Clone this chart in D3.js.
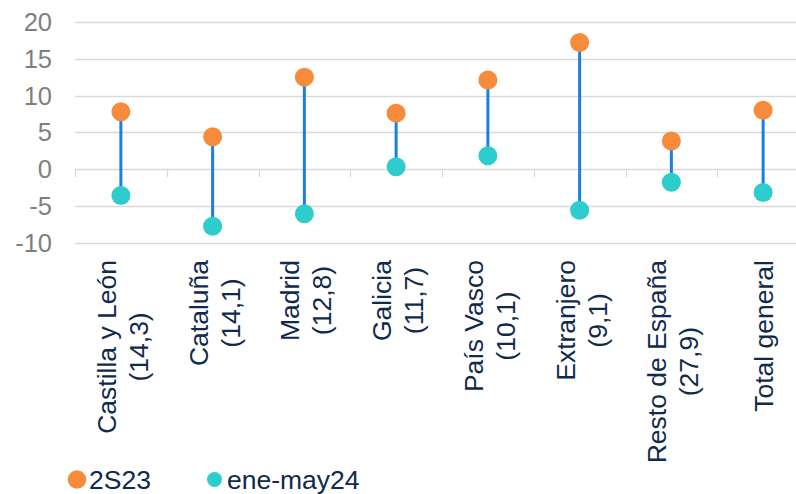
<!DOCTYPE html>
<html>
<head>
<meta charset="utf-8">
<script src="https://cdn.jsdelivr.net/npm/d3@7"></script>
<style>
  html, body { margin: 0; padding: 0; background: #fff; }
  svg { display: block; font-family: "Liberation Sans", Arial, sans-serif; }
</style>
</head>
<body>
<div id="chart"></div>
<script>
// Daten
const categories = ["Castilla y León", "Cataluña", "Madrid", "Galicia", "País Vasco", "Extranjero", "Resto de España", "Total general"];
const subLabels = ["(14,3)", "(14,1)", "(12,8)", "(11,7)", "(10,1)", "(9,1)", "(27,9)", ""];
const values2S23 = [7.8, 4.4, 12.5, 7.6, 12.1, 17.2, 3.8, 8.0];
const valuesEneMay24 = [-3.6, -7.8, -6.1, 0.3, 1.8, -5.6, -1.8, -3.2];
const yTicks = [-10, -5, 0, 5, 10, 15, 20];
const seriesNames = ["2S23", "ene-may24"];

const width = 796, height = 494;
const margin = { top: 22, right: -13, left: 75 };
const labelFont = "26.5px";

const svg = d3.select("#chart")
    .append("svg")
    .attr("width", width)
    .attr("height", height);

const x = d3.scaleBand()
    .domain(categories)
    .range([margin.left, width - margin.right])
    .padding(0);

const y = d3.scaleLinear()
    .domain([-10, 20])
    .range([242.5, margin.top]);

// Gitterlinien
svg.append("g")
    .selectAll("line")
    .data(yTicks)
    .enter()
    .append("line")
    .attr("x1", margin.left)
    .attr("x2", width - margin.right)
    .attr("y1", d => Math.round(y(d)) + 0.5)
    .attr("y2", d => Math.round(y(d)) + 0.5)
    .attr("stroke", "#d9d9d9")
    .attr("stroke-width", 1.3);

// Y-Achse Beschriftung
svg.append("g")
    .selectAll("text")
    .data(yTicks)
    .enter()
    .append("text")
    .attr("x", 52)
    .attr("y", d => y(d))
    .attr("dy", "0.36em")
    .attr("text-anchor", "end")
    .attr("fill", "#7f7f7f")
    .style("font-size", "25.5px")
    .text(d => d);

// Kategorie-Ticks auf der Nulllinie
const tickPos = categories.map(c => x(c)).concat([x(categories[categories.length - 1]) + x.bandwidth()]);
svg.append("g")
    .selectAll("line")
    .data(tickPos)
    .enter()
    .append("line")
    .attr("x1", d => Math.round(d) + 0.5)
    .attr("x2", d => Math.round(d) + 0.5)
    .attr("y1", Math.round(y(0)))
    .attr("y2", Math.round(y(0)) + 8)
    .attr("stroke", "#d9d9d9")
    .attr("stroke-width", 1.3);

const cx = d => x(d) + x.bandwidth() / 2;

// Verbindungslinien
svg.append("g")
    .selectAll("line")
    .data(categories)
    .enter()
    .append("line")
    .attr("x1", d => cx(d))
    .attr("x2", d => cx(d))
    .attr("y1", (d, i) => y(values2S23[i]))
    .attr("y2", (d, i) => y(valuesEneMay24[i]))
    .attr("stroke", "#1a7fe0")
    .attr("stroke-width", 3);

// Punkte
svg.append("g")
    .selectAll("circle")
    .data(categories)
    .enter()
    .append("circle")
    .attr("cx", d => cx(d))
    .attr("cy", (d, i) => y(valuesEneMay24[i]))
    .attr("r", 9.5)
    .attr("fill", "#2ecdcd");

svg.append("g")
    .selectAll("circle")
    .data(categories)
    .enter()
    .append("circle")
    .attr("cx", d => cx(d))
    .attr("cy", (d, i) => y(values2S23[i]))
    .attr("r", 9.5)
    .attr("fill", "#f68b3b");

// zweite Zeile mittig unter der ersten Zeile ausrichten
function halfWidth(t) {
    const tmp = svg.append("text").style("font-size", labelFont).text(t);
    const w = tmp.node().getComputedTextLength();
    tmp.remove();
    return w / 2;
}

// Kategorie-Beschriftung (rotiert)
const labels = svg.append("g")
    .selectAll("g")
    .data(categories)
    .enter()
    .append("g")
    .attr("transform", d => `translate(${cx(d)},260) rotate(-90)`);

labels.each(function(d, i) {
    const g = d3.select(this);
    const two = subLabels[i] !== "";
    g.append("text")
        .attr("x", 0)
        .attr("y", two ? -14.5 : 0)
        .attr("dy", "0.36em")
        .attr("text-anchor", "end")
        .attr("fill", "#0f2a4d")
        .style("font-size", labelFont)
        .text(d);
    if (two) {
        g.append("text")
            .attr("x", -halfWidth(d))
            .attr("y", 17.5)
            .attr("dy", "0.36em")
            .attr("text-anchor", "middle")
            .attr("fill", "#0f2a4d")
            .style("font-size", labelFont)
            .text(subLabels[i]);
    }
});

// Legende
const legend = svg.append("g").attr("transform", "translate(0,479.5)");
const legendItems = [
    { name: seriesNames[0], color: "#f68b3b", x: 77, r: 9.3, tx: 89 },
    { name: seriesNames[1], color: "#2ecdcd", x: 214.5, r: 7.5, tx: 227 }
];
legendItems.forEach(it => {
    legend.append("circle")
        .attr("cx", it.x)
        .attr("cy", 0)
        .attr("r", it.r)
        .attr("fill", it.color);
    legend.append("text")
        .attr("x", it.tx)
        .attr("y", 0)
        .attr("dy", "0.36em")
        .attr("fill", "#0f2a4d")
        .style("font-size", labelFont)
        .text(it.name);
});
</script>
</body>
</html>
